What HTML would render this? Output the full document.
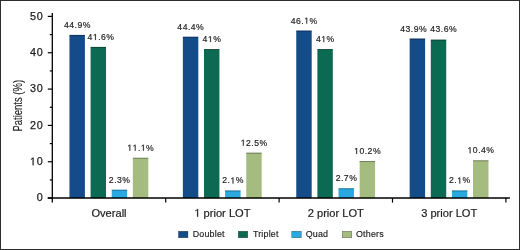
<!DOCTYPE html><html><head><meta charset="utf-8"><title>Patients by regimen type and prior lines of therapy</title><style>html,body{margin:0;padding:0;background:#fff}svg{display:block;will-change:transform}text{font-family:"Liberation Sans",sans-serif;fill:#1e1e1e;stroke:#1e1e1e;stroke-width:0}.v{stroke-width:0.2px}.yt{stroke-width:0.25px}.xl{stroke-width:0.2px}.lg{stroke-width:0.16px}.ti{stroke-width:0.15px}.o1{fill:none;stroke:none}</style></head><body>
<svg width="520" height="250" viewBox="0 0 520 250">
<rect x="0" y="0" width="520" height="250" fill="#fff"/>
<rect x="0.5" y="0.5" width="519" height="249" fill="none" stroke="#2d2d2d" stroke-width="1"/>
<rect x="69.45" y="34.93" width="15.45" height="163.17" fill="#144c8a"/>
<rect x="69.45" y="34.93" width="15.45" height="1.0" fill="#000" fill-opacity="0.32"/>
<rect x="90.58" y="46.93" width="15.45" height="151.17" fill="#0d6a52"/>
<rect x="90.58" y="46.93" width="15.45" height="1.0" fill="#000" fill-opacity="0.32"/>
<rect x="111.71" y="189.74" width="15.45" height="8.36" fill="#2aa8e0"/>
<rect x="111.71" y="189.74" width="15.45" height="1.0" fill="#000" fill-opacity="0.32"/>
<rect x="132.84" y="157.76" width="15.45" height="40.34" fill="#a5bc80"/>
<rect x="132.84" y="157.76" width="15.45" height="1.0" fill="#000" fill-opacity="0.32"/>
<rect x="182.85" y="36.75" width="15.45" height="161.35" fill="#144c8a"/>
<rect x="182.85" y="36.75" width="15.45" height="1.0" fill="#000" fill-opacity="0.32"/>
<rect x="203.98" y="49.11" width="15.45" height="148.99" fill="#0d6a52"/>
<rect x="203.98" y="49.11" width="15.45" height="1.0" fill="#000" fill-opacity="0.32"/>
<rect x="225.11" y="190.47" width="15.45" height="7.63" fill="#2aa8e0"/>
<rect x="225.11" y="190.47" width="15.45" height="1.0" fill="#000" fill-opacity="0.32"/>
<rect x="246.24" y="152.68" width="15.45" height="45.42" fill="#a5bc80"/>
<rect x="246.24" y="152.68" width="15.45" height="1.0" fill="#000" fill-opacity="0.32"/>
<rect x="296.25" y="30.57" width="15.45" height="167.53" fill="#144c8a"/>
<rect x="296.25" y="30.57" width="15.45" height="1.0" fill="#000" fill-opacity="0.32"/>
<rect x="317.38" y="49.11" width="15.45" height="148.99" fill="#0d6a52"/>
<rect x="317.38" y="49.11" width="15.45" height="1.0" fill="#000" fill-opacity="0.32"/>
<rect x="338.51" y="188.29" width="15.45" height="9.81" fill="#2aa8e0"/>
<rect x="338.51" y="188.29" width="15.45" height="1.0" fill="#000" fill-opacity="0.32"/>
<rect x="359.64" y="161.03" width="15.45" height="37.07" fill="#a5bc80"/>
<rect x="359.64" y="161.03" width="15.45" height="1.0" fill="#000" fill-opacity="0.32"/>
<rect x="409.65" y="38.57" width="15.45" height="159.53" fill="#144c8a"/>
<rect x="409.65" y="38.57" width="15.45" height="1.0" fill="#000" fill-opacity="0.32"/>
<rect x="430.78" y="39.66" width="15.45" height="158.44" fill="#0d6a52"/>
<rect x="430.78" y="39.66" width="15.45" height="1.0" fill="#000" fill-opacity="0.32"/>
<rect x="451.91" y="190.47" width="15.45" height="7.63" fill="#2aa8e0"/>
<rect x="451.91" y="190.47" width="15.45" height="1.0" fill="#000" fill-opacity="0.32"/>
<rect x="473.04" y="160.31" width="15.45" height="37.79" fill="#a5bc80"/>
<rect x="473.04" y="160.31" width="15.45" height="1.0" fill="#000" fill-opacity="0.32"/>
<text transform="translate(77.42,27.93) scale(0.9,0.9)" font-size="9.6" letter-spacing="0.55" text-anchor="middle" class="v">44.9%</text>
<text transform="translate(101.05,39.93) scale(0.9,0.9)" font-size="9.6" letter-spacing="0.55" text-anchor="middle" class="v">4<tspan class="o1">1</tspan>.6%</text>
<text transform="translate(119.68,182.74) scale(0.9,0.9)" font-size="9.6" letter-spacing="0.55" text-anchor="middle" class="v">2.3%</text>
<text transform="translate(140.81,150.76) scale(0.9,0.9)" font-size="9.6" letter-spacing="0.55" text-anchor="middle" class="v"><tspan class="o1">1</tspan><tspan class="o1">1</tspan>.<tspan class="o1">1</tspan>%</text>
<text transform="translate(190.82,29.75) scale(0.9,0.9)" font-size="9.6" letter-spacing="0.55" text-anchor="middle" class="v">44.4%</text>
<text transform="translate(211.95,42.11) scale(0.9,0.9)" font-size="9.6" letter-spacing="0.55" text-anchor="middle" class="v">4<tspan class="o1">1</tspan>%</text>
<text transform="translate(233.08,183.47) scale(0.9,0.9)" font-size="9.6" letter-spacing="0.55" text-anchor="middle" class="v">2.<tspan class="o1">1</tspan>%</text>
<text transform="translate(254.21,145.68) scale(0.9,0.9)" font-size="9.6" letter-spacing="0.55" text-anchor="middle" class="v"><tspan class="o1">1</tspan>2.5%</text>
<text transform="translate(304.22,23.57) scale(0.9,0.9)" font-size="9.6" letter-spacing="0.55" text-anchor="middle" class="v">46.<tspan class="o1">1</tspan>%</text>
<text transform="translate(325.35,42.11) scale(0.9,0.9)" font-size="9.6" letter-spacing="0.55" text-anchor="middle" class="v">4<tspan class="o1">1</tspan>%</text>
<text transform="translate(346.48,181.29) scale(0.9,0.9)" font-size="9.6" letter-spacing="0.55" text-anchor="middle" class="v">2.7%</text>
<text transform="translate(367.61,154.03) scale(0.9,0.9)" font-size="9.6" letter-spacing="0.55" text-anchor="middle" class="v"><tspan class="o1">1</tspan>0.2%</text>
<text transform="translate(413.72,32.10) scale(0.9,0.9)" font-size="9.6" letter-spacing="0.55" text-anchor="middle" class="v">43.9%</text>
<text transform="translate(443.65,32.30) scale(0.9,0.9)" font-size="9.6" letter-spacing="0.55" text-anchor="middle" class="v">43.6%</text>
<text transform="translate(459.88,183.47) scale(0.9,0.9)" font-size="9.6" letter-spacing="0.55" text-anchor="middle" class="v">2.<tspan class="o1">1</tspan>%</text>
<text transform="translate(481.01,153.31) scale(0.9,0.9)" font-size="9.6" letter-spacing="0.55" text-anchor="middle" class="v"><tspan class="o1">1</tspan>0.4%</text>
<line x1="52.3" y1="12.90" x2="52.3" y2="202.60" stroke="#000" stroke-width="1.3"/>
<line x1="47.80" y1="198.0" x2="509.90" y2="198.0" stroke="#000" stroke-width="1.7"/>
<line x1="47.80" y1="198.10" x2="52.3" y2="198.10" stroke="#000" stroke-width="1.2"/>
<text transform="translate(43.45,201.49) scale(1.0,1)" font-size="10.8" letter-spacing="0.75" text-anchor="end" class="yt">0</text>
<line x1="47.80" y1="161.76" x2="52.3" y2="161.76" stroke="#000" stroke-width="1.2"/>
<text transform="translate(43.45,165.15) scale(1.0,1)" font-size="10.8" letter-spacing="0.75" text-anchor="end" class="yt"><tspan class="o1">1</tspan>0</text>
<line x1="47.80" y1="125.42" x2="52.3" y2="125.42" stroke="#000" stroke-width="1.2"/>
<text transform="translate(43.45,128.81) scale(1.0,1)" font-size="10.8" letter-spacing="0.75" text-anchor="end" class="yt">20</text>
<line x1="47.80" y1="89.08" x2="52.3" y2="89.08" stroke="#000" stroke-width="1.2"/>
<text transform="translate(43.45,92.47) scale(1.0,1)" font-size="10.8" letter-spacing="0.75" text-anchor="end" class="yt">30</text>
<line x1="47.80" y1="52.74" x2="52.3" y2="52.74" stroke="#000" stroke-width="1.2"/>
<text transform="translate(43.45,56.13) scale(1.0,1)" font-size="10.8" letter-spacing="0.75" text-anchor="end" class="yt">40</text>
<line x1="47.80" y1="16.40" x2="52.3" y2="16.40" stroke="#000" stroke-width="1.2"/>
<text transform="translate(43.45,19.79) scale(1.0,1)" font-size="10.8" letter-spacing="0.75" text-anchor="end" class="yt">50</text>
<line x1="49.80" y1="179.93" x2="52.3" y2="179.93" stroke="#000" stroke-width="1.2"/>
<line x1="49.80" y1="143.59" x2="52.3" y2="143.59" stroke="#000" stroke-width="1.2"/>
<line x1="49.80" y1="107.25" x2="52.3" y2="107.25" stroke="#000" stroke-width="1.2"/>
<line x1="49.80" y1="70.91" x2="52.3" y2="70.91" stroke="#000" stroke-width="1.2"/>
<line x1="49.80" y1="34.57" x2="52.3" y2="34.57" stroke="#000" stroke-width="1.2"/>
<line x1="165.70" y1="198.1" x2="165.70" y2="202.60" stroke="#000" stroke-width="1.2"/>
<line x1="279.10" y1="198.1" x2="279.10" y2="202.60" stroke="#000" stroke-width="1.2"/>
<line x1="392.50" y1="198.1" x2="392.50" y2="202.60" stroke="#000" stroke-width="1.2"/>
<line x1="505.90" y1="198.1" x2="505.90" y2="202.60" stroke="#000" stroke-width="1.2"/>
<text transform="translate(109.00,216.8) scale(1.0,1)" font-size="11.1" text-anchor="middle" class="xl">Overall</text>
<text transform="translate(222.40,216.8) scale(1.0,1)" font-size="11.1" text-anchor="middle" class="xl"><tspan class="o1">1</tspan> prior LOT</text>
<text transform="translate(335.80,216.8) scale(1.0,1)" font-size="11.1" text-anchor="middle" class="xl">2 prior LOT</text>
<text transform="translate(449.20,216.8) scale(1.0,1)" font-size="11.1" text-anchor="middle" class="xl">3 prior LOT</text>
<text transform="translate(21.7,105.7) rotate(-90) scale(0.74,1)" font-size="12.8" text-anchor="middle" class="ti">Patients (%)</text>
<rect x="178.45" y="231.25" width="9.5" height="6.5" fill="#144c8a" stroke="#000" stroke-opacity="0.5" stroke-width="0.5"/>
<text transform="translate(192.7,236.8) scale(1.0,1)" font-size="8.9" letter-spacing="0.2" class="lg">Doublet</text>
<rect x="238.25" y="231.25" width="9.5" height="6.5" fill="#0d6a52" stroke="#000" stroke-opacity="0.5" stroke-width="0.5"/>
<text transform="translate(252.9,236.8) scale(1.0,1)" font-size="8.9" letter-spacing="0.2" class="lg">Triplet</text>
<rect x="291.75" y="231.25" width="9.5" height="6.5" fill="#2aa8e0" stroke="#000" stroke-opacity="0.5" stroke-width="0.5"/>
<text transform="translate(305.7,236.8) scale(1.0,1)" font-size="8.9" letter-spacing="0.2" class="lg">Quad</text>
<rect x="342.25" y="231.25" width="9.5" height="6.5" fill="#a5bc80" stroke="#000" stroke-opacity="0.5" stroke-width="0.5"/>
<text transform="translate(356.0,236.8) scale(1.0,1)" font-size="8.9" letter-spacing="0.2" class="lg">Others</text>
<path d="M515 0L515 1237L197 1010L197 1180L530 1409L696 1409L696 0Z" transform="matrix(0.90000 0.00000 0.00000 0.90000 101.05000 39.93000) translate(-9.089 0.000) scale(0.004687 -0.004687)" fill="#1e1e1e" stroke="#1e1e1e" stroke-width="0.2" vector-effect="non-scaling-stroke"/>
<path d="M515 0L515 1237L197 1010L197 1180L530 1409L696 1409L696 0Z" transform="matrix(0.90000 0.00000 0.00000 0.90000 140.81000 150.75999) translate(-14.983 0.000) scale(0.004687 -0.004687)" fill="#1e1e1e" stroke="#1e1e1e" stroke-width="0.2" vector-effect="non-scaling-stroke"/>
<path d="M515 0L515 1237L197 1010L197 1180L530 1409L696 1409L696 0Z" transform="matrix(0.90000 0.00000 0.00000 0.90000 140.81000 150.75999) translate(-9.097 0.000) scale(0.004687 -0.004687)" fill="#1e1e1e" stroke="#1e1e1e" stroke-width="0.2" vector-effect="non-scaling-stroke"/>
<path d="M515 0L515 1237L197 1010L197 1180L530 1409L696 1409L696 0Z" transform="matrix(0.90000 0.00000 0.00000 0.90000 140.81000 150.75999) translate(0.017 0.000) scale(0.004687 -0.004687)" fill="#1e1e1e" stroke="#1e1e1e" stroke-width="0.2" vector-effect="non-scaling-stroke"/>
<path d="M515 0L515 1237L197 1010L197 1180L530 1409L696 1409L696 0Z" transform="matrix(0.90000 0.00000 0.00000 0.90000 211.95000 42.11000) translate(-4.540 0.000) scale(0.004687 -0.004687)" fill="#1e1e1e" stroke="#1e1e1e" stroke-width="0.2" vector-effect="non-scaling-stroke"/>
<path d="M515 0L515 1237L197 1010L197 1180L530 1409L696 1409L696 0Z" transform="matrix(0.90000 0.00000 0.00000 0.90000 233.08000 183.47000) translate(-2.934 0.000) scale(0.004687 -0.004687)" fill="#1e1e1e" stroke="#1e1e1e" stroke-width="0.2" vector-effect="non-scaling-stroke"/>
<path d="M515 0L515 1237L197 1010L197 1180L530 1409L696 1409L696 0Z" transform="matrix(0.90000 0.00000 0.00000 0.90000 254.21001 145.67999) translate(-14.965 0.000) scale(0.004687 -0.004687)" fill="#1e1e1e" stroke="#1e1e1e" stroke-width="0.2" vector-effect="non-scaling-stroke"/>
<path d="M515 0L515 1237L197 1010L197 1180L530 1409L696 1409L696 0Z" transform="matrix(0.90000 0.00000 0.00000 0.90000 304.22000 23.57000) translate(0.009 0.000) scale(0.004687 -0.004687)" fill="#1e1e1e" stroke="#1e1e1e" stroke-width="0.2" vector-effect="non-scaling-stroke"/>
<path d="M515 0L515 1237L197 1010L197 1180L530 1409L696 1409L696 0Z" transform="matrix(0.90000 0.00000 0.00000 0.90000 325.35001 42.11000) translate(-4.540 0.000) scale(0.004687 -0.004687)" fill="#1e1e1e" stroke="#1e1e1e" stroke-width="0.2" vector-effect="non-scaling-stroke"/>
<path d="M515 0L515 1237L197 1010L197 1180L530 1409L696 1409L696 0Z" transform="matrix(0.90000 0.00000 0.00000 0.90000 367.60999 154.03000) translate(-14.965 0.000) scale(0.004687 -0.004687)" fill="#1e1e1e" stroke="#1e1e1e" stroke-width="0.2" vector-effect="non-scaling-stroke"/>
<path d="M515 0L515 1237L197 1010L197 1180L530 1409L696 1409L696 0Z" transform="matrix(0.90000 0.00000 0.00000 0.90000 459.88000 183.47000) translate(-2.934 0.000) scale(0.004687 -0.004687)" fill="#1e1e1e" stroke="#1e1e1e" stroke-width="0.2" vector-effect="non-scaling-stroke"/>
<path d="M515 0L515 1237L197 1010L197 1180L530 1409L696 1409L696 0Z" transform="matrix(0.90000 0.00000 0.00000 0.90000 481.01001 153.31000) translate(-14.965 0.000) scale(0.004687 -0.004687)" fill="#1e1e1e" stroke="#1e1e1e" stroke-width="0.2" vector-effect="non-scaling-stroke"/>
<path d="M515 0L515 1237L197 1010L197 1180L530 1409L696 1409L696 0Z" transform="matrix(1.00000 0.00000 0.00000 1.00000 43.45000 165.14999) translate(-13.531 0.000) scale(0.005273 -0.005273)" fill="#1e1e1e" stroke="#1e1e1e" stroke-width="0.25" vector-effect="non-scaling-stroke"/>
<path d="M515 0L515 1237L197 1010L197 1180L530 1409L696 1409L696 0Z" transform="matrix(1.00000 0.00000 0.00000 1.00000 222.39999 216.80000) translate(-28.055 0.000) scale(0.005420 -0.005420)" fill="#1e1e1e" stroke="#1e1e1e" stroke-width="0.2" vector-effect="non-scaling-stroke"/>
</svg></body></html>
